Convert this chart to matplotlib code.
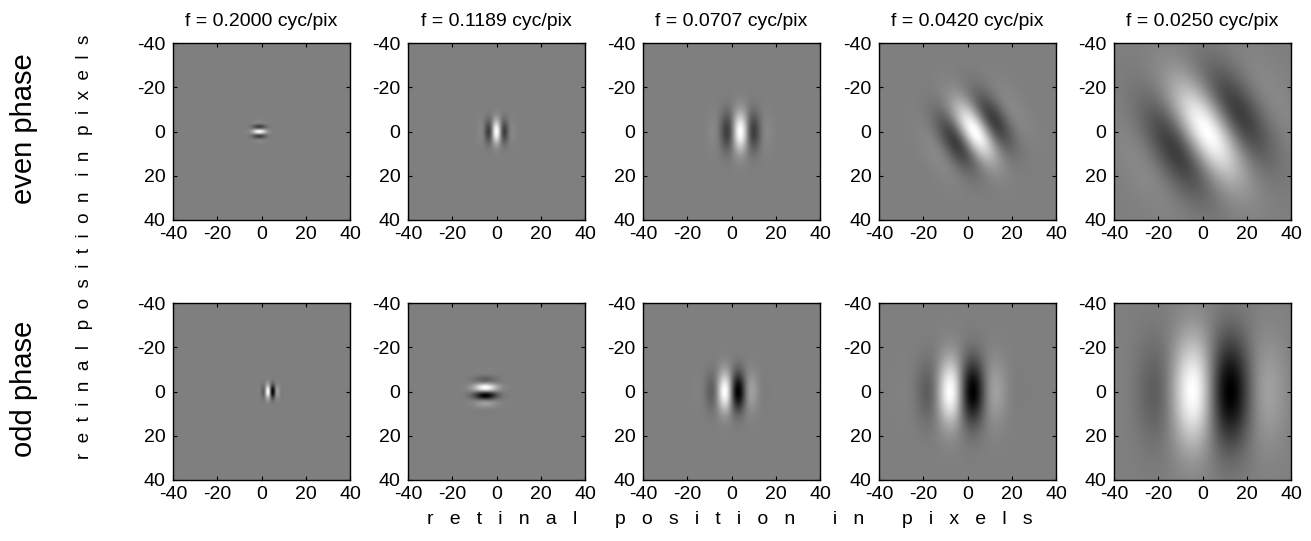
import numpy as np
from matplotlib import pyplot as plt

# spatial frequency of each column (cycles per pixel)
freqs = [0.2000, 0.1189, 0.0707, 0.0420, 0.0250]

# even phase filters: wave-vector angle (deg, y pointing down) and centre
even_theta = [90, 0, 0, -30, -30]
even_cx = [-1, 0, 4, 3, 2]
even_cy = [0, 0, 0, 0, 0]

# odd phase filters
odd_theta = [0, 90, 0, 0, 0]
odd_cx = [4, -5, 0, -3, 4]
odd_cy = [0, 0, 0, 0, 0]

ticks = [-40, -20, 0, 20, 40]
row_names = ['even phase', 'odd phase']

plt.rcParams['font.family'] = ['Liberation Sans', 'DejaVu Sans']
plt.rcParams['axes.unicode_minus'] = False


def gabor(f, theta, cx, cy, odd):
    x = np.linspace(-40, 40, 401)
    X, Y = np.meshgrid(x, x)
    th = np.deg2rad(theta)
    u = (X - cx) * np.cos(th) + (Y - cy) * np.sin(th)
    v = -(X - cx) * np.sin(th) + (Y - cy) * np.cos(th)
    lam = 1.0 / f
    env = np.exp(-u**2 / (2 * (0.4 * lam)**2) - v**2 / (2 * (0.43 * lam)**2))
    if odd:
        carrier = -np.sin(2 * np.pi * f * u)
    else:
        carrier = np.cos(2 * np.pi * f * u)
    return env * carrier


def spaced(text, gap, word_gap):
    return word_gap.join(gap.join(w) for w in text.split(' '))


fig = plt.figure(figsize=(13.11, 5.41), dpi=100)
W, H = 1311.0, 541.0
lefts = [173, 408, 643, 879, 1114]
tops = [43, 303]
size = 177
# odd number of levels so that zero sits in the middle of one grey level
cmap = plt.get_cmap('gray', 255)

for r in range(2):
    for c in range(5):
        ax = fig.add_axes([lefts[c] / W, 1 - (tops[r] + size) / H, size / W, size / H])
        if r == 0:
            img = gabor(freqs[c], even_theta[c], even_cx[c], even_cy[c], False)
        else:
            img = gabor(freqs[c], odd_theta[c], odd_cx[c], odd_cy[c], True)
        m = np.abs(img).max()
        ax.imshow(img, cmap=cmap, vmin=-m, vmax=m, extent=(-40, 40, 40, -40),
                  interpolation='bilinear')
        ax.set_xticks(ticks)
        ax.set_yticks(ticks)
        ax.set_xlim(-40, 40)
        ax.set_ylim(40, -40)
        ax.tick_params(direction='in', length=3, top=True, right=True, labelsize=14)
        ax.tick_params(axis='x', pad=4)
        ax.tick_params(axis='y', pad=5.5)
        for s in ax.spines.values():
            s.set_linewidth(1.0)
        if r == 0:
            ax.set_title(f"f = {freqs[c]:.4f} cyc/pix", fontsize=14, pad=12)

for r in range(2):
    yc = 1 - (tops[r] + size / 2 - 3) / H
    fig.text(24 / W, yc, row_names[r], rotation=90, ha='center', va='center', fontsize=21)

fig.text(85 / W, 1 - 247 / H, spaced('retinal position in pixels', '  ', '   '),
         rotation=90, ha='center', va='center', fontsize=13.5)
fig.text(730 / W, 1 - 520 / H, spaced('retinal position in pixels', '   ', '       '),
         ha='center', va='center', fontsize=14)

fig.savefig('out.png', dpi=100)
